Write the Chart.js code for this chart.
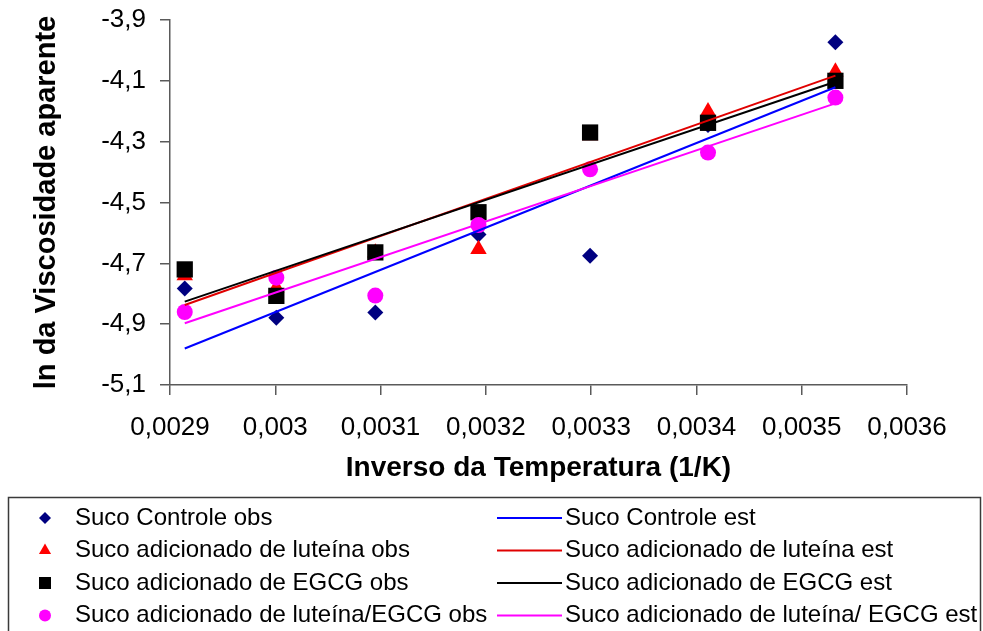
<!DOCTYPE html>
<html lang="pt-BR">
<head>
<meta charset="utf-8">
<title>ln da viscosidade aparente x inverso da temperatura</title>
<script src="https://cdn.jsdelivr.net/npm/chart.js@4.4.0/dist/chart.umd.min.js"></script>
<style>
  html, body { margin: 0; padding: 0; background: #fff; }
  #grafico { display: block; }
</style>
</head>
<body>
<canvas id="grafico" width="983" height="631"></canvas>
<script>
// inverso da temperatura (1/K) dos pontos observados, de 70 °C até 10 °C
const inversoTemperatura = [0.002914, 0.003001, 0.003095, 0.003193, 0.003299, 0.003411, 0.003532]
// extremos das retas estimadas
const inversoReta = [0.002914, 0.003532]

// ln da viscosidade aparente observado
const controleObs = [-4.783, -4.879, -4.862, -4.605, -4.675, -4.245, -3.973]
const luteinaObs = [-4.74, -4.78, -4.665, -4.654, -4.28, -4.201, -4.07]
const egcgObs = [-4.72, -4.807, -4.664, -4.532, -4.27, -4.238, -4.1]
const luteinaEgcgObs = [-4.86, -4.747, -4.806, -4.574, -4.391, -4.336, -4.155]

// valores estimados (retas) nos extremos
const controleEst = [-4.98, -4.121]
const luteinaEst = [-4.837, -4.083]
const egcgEst = [-4.826, -4.103]
const luteinaEgcgEst = [-4.897, -4.174]

const rotulosObs = [
  'Suco Controle obs',
  'Suco adicionado de luteína obs',
  'Suco adicionado de EGCG obs',
  'Suco adicionado de luteína/EGCG obs',
]
const rotulosEst = [
  'Suco Controle est',
  'Suco adicionado de luteína est',
  'Suco adicionado de EGCG est',
  'Suco adicionado de luteína/ EGCG est',
]

// limites dos eixos
const eixoX = { min: 0.0029, max: 0.0036, passo: 0.0001 }
const eixoY = { min: -5.1, max: -3.9, passo: 0.2 }

const fonte = '"Liberation Sans", Arial, sans-serif'
const corEixo = '#5a5a5a'

// junta x e y em pontos {x, y}
const pontos = (xs, ys) => ys.map((y, i) => ({ x: xs[i], y }))

const serieObs = (rotulo, valores, cor, estilo, raio, ordem) => ({
  label: rotulo,
  data: pontos(inversoTemperatura, valores),
  showLine: false,
  pointStyle: estilo,
  pointRadius: raio,
  pointHoverRadius: raio,
  backgroundColor: cor,
  borderColor: cor,
  borderWidth: 0,
  order: ordem,
})

const serieEst = (rotulo, valores, cor, ordem) => ({
  label: rotulo,
  data: pontos(inversoReta, valores),
  showLine: true,
  pointRadius: 0,
  borderColor: cor,
  backgroundColor: cor,
  borderWidth: 2,
  order: ordem,
})

// legenda em caixa, duas colunas (obs | est), desenhada no próprio canvas
const legendaCaixa = {
  id: 'legendaCaixa',
  afterDraw(chart) {
    const ctx = chart.ctx
    const conjuntos = chart.data.datasets
    const raios = [6, 7, 8.5, 6]
    ctx.save()
    ctx.strokeStyle = '#3a3a3a'
    ctx.lineWidth = 1.5
    ctx.strokeRect(8.5, 497.5, 972, 150)
    ctx.font = '24px ' + fonte
    ctx.textBaseline = 'middle'
    for (let i = 0; i < 4; i++) {
      const y = 518 + i * 32.5
      const obs = conjuntos[i]
      const est = conjuntos[i + 4]
      ctx.fillStyle = obs.backgroundColor
      Chart.helpers.drawPoint(ctx, { pointStyle: obs.pointStyle, radius: raios[i], borderWidth: 0, rotation: 0 }, 45, y)
      ctx.fillStyle = '#000'
      ctx.fillText(obs.label, 75, y)
      ctx.strokeStyle = est.borderColor
      ctx.lineWidth = 2
      ctx.beginPath()
      ctx.moveTo(497, y)
      ctx.lineTo(562, y)
      ctx.stroke()
      ctx.fillStyle = '#000'
      ctx.fillText(est.label, 565, y)
    }
    ctx.restore()
  },
}

const formataVirgula = v => parseFloat(v.toFixed(4)).toString().replace('.', ',')

new Chart(document.getElementById('grafico').getContext('2d'), {
  type: 'scatter',
  data: {
    datasets: [
      serieObs(rotulosObs[0], controleObs, '#000080', 'rectRot', 8, 8),
      serieObs(rotulosObs[1], luteinaObs, '#ff0000', 'triangle', 9.5, 7),
      serieObs(rotulosObs[2], egcgObs, '#000000', 'rect', 11.5, 6),
      serieObs(rotulosObs[3], luteinaEgcgObs, '#ff00ff', 'circle', 8, 5),
      serieEst(rotulosEst[0], controleEst, '#0000ff', 4),
      serieEst(rotulosEst[1], luteinaEst, '#e00000', 3),
      serieEst(rotulosEst[2], egcgEst, '#000000', 2),
      serieEst(rotulosEst[3], luteinaEgcgEst, '#ff00ff', 1),
    ],
  },
  options: {
    responsive: false,
    animation: false,
    layout: { padding: { top: 20, right: 76, bottom: 146, left: 0 } },
    plugins: {
      legend: { display: false },
      tooltip: { enabled: false },
    },
    scales: {
      x: {
        type: 'linear',
        min: eixoX.min,
        max: eixoX.max,
        afterFit: escala => { escala.height = 100 },
        ticks: {
          stepSize: eixoX.passo,
          autoSkip: false,
          maxRotation: 0,
          padding: 17,
          color: '#000',
          font: { family: fonte, size: 26 },
          callback: v => formataVirgula(v),
        },
        grid: { drawOnChartArea: false, drawTicks: true, tickLength: 10, color: corEixo, lineWidth: 1.5 },
        border: { display: true, color: corEixo, width: 1.5 },
        title: {
          display: true,
          text: 'Inverso da Temperatura (1/K)',
          color: '#000',
          font: { family: fonte, size: 28, weight: 'bold' },
          padding: { top: 0, bottom: 0 },
        },
      },
      y: {
        min: eixoY.min,
        max: eixoY.max,
        afterFit: escala => {
          escala.width = 170
          escala.paddingTop = 0
        },
        ticks: {
          stepSize: eixoY.passo,
          padding: 14,
          color: '#000',
          font: { family: fonte, size: 26 },
          callback: v => v.toFixed(1).replace('.', ','),
        },
        grid: { drawOnChartArea: false, drawTicks: true, tickLength: 10, color: corEixo, lineWidth: 1.5 },
        border: { display: true, color: corEixo, width: 1.5 },
        title: {
          display: true,
          text: 'ln da Viscosidade aparente',
          color: '#000',
          font: { family: fonte, size: 29, weight: 'bold' },
          padding: { top: 30, bottom: 0 },
        },
      },
    },
  },
  plugins: [legendaCaixa],
})
</script>
</body>
</html>
